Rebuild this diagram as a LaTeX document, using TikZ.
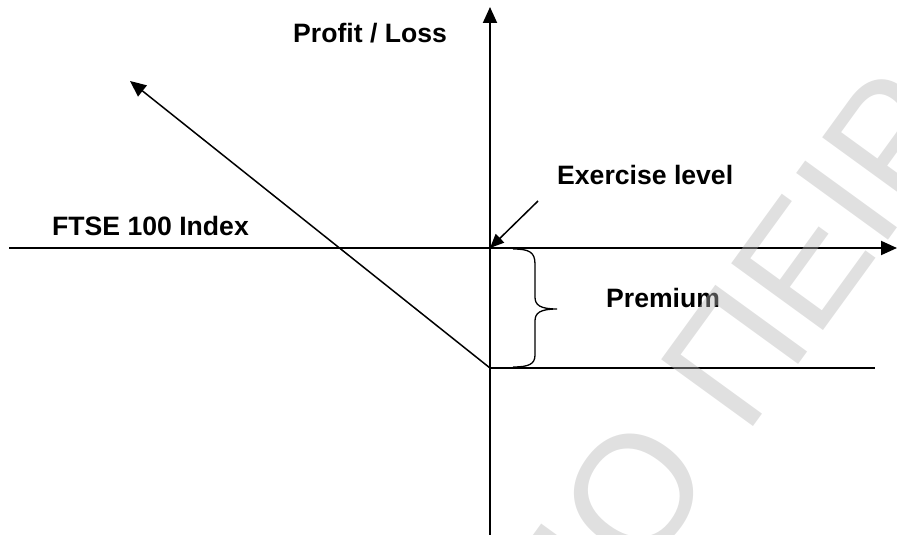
\documentclass[tikz,border=0pt]{standalone}
\usepackage{fontspec}
\setmainfont{Liberation Sans}
\usetikzlibrary{arrows.meta}
\definecolor{wmgray}{gray}{0.71}
\begin{document}
\begin{tikzpicture}[x=1pt,y=-1pt,
  axisline/.style={line width=1.9pt},
  plotline/.style={line width=1.5pt},
  bigtip/.style={-{Triangle[length=16pt,width=14pt]}},
  smalltip/.style={-{Triangle[length=14pt,width=12pt]}},
  lbl/.style={font=\fontsize{26.6}{30}\selectfont\bfseries, anchor=base west, inner sep=0pt},
  wmark/.style={font=\fontsize{165}{165}\selectfont, text=wmgray, text opacity=0.42, anchor=base west, inner sep=0pt, rotate=54}
]
\useasboundingbox (0,0) rectangle (897,535);
% key points
\coordinate (O) at (490,248);
\coordinate (K) at (490,368);
\coordinate (ytop) at (490,7);
\coordinate (ybot) at (490,540);
\coordinate (xleft) at (9,248);
\coordinate (xright) at (897,248);
\coordinate (diagtip) at (130,81);
\coordinate (flatend) at (875,368);
\coordinate (exstart) at (538,201);
% axes
\draw[axisline,bigtip] (ybot) -- (ytop);
\draw[axisline,bigtip] (xleft) -- (xright);
% payoff
\draw[plotline,bigtip] (K) -- (diagtip);
\draw[plotline] (K) -- (flatend);
% exercise arrow
\draw[plotline,smalltip] (exstart) -- (O);
% brace
\coordinate (brtop) at (513,249);
\coordinate (brtip) at (557,309);
\coordinate (brbot) at (513,367);
\draw[line width=1.3pt] (brtop) .. controls (529,249) and (535,252) .. (535,264)
  -- (535,297) .. controls (535,305) and (540,309) .. (brtip)
  .. controls (540,309) and (535,313) .. (535,321)
  -- (535,355) .. controls (535,364) and (529,367) .. (brbot);
% labels
\node[lbl] (pl) at (293,43) {Profit / Loss};
\node[lbl] (ftse) at (52,235) {FTSE 100 Index};
\node[lbl] (ex) at (557,184) {Exercise level};
\node[lbl] (prem) at (606,307) {Premium};
% watermark
\node[wmark] (wm) at (745,438) {\llap{ΙΟ\ }ΠΕΙΡ\kern-16pt Α};
\end{tikzpicture}
\end{document}
